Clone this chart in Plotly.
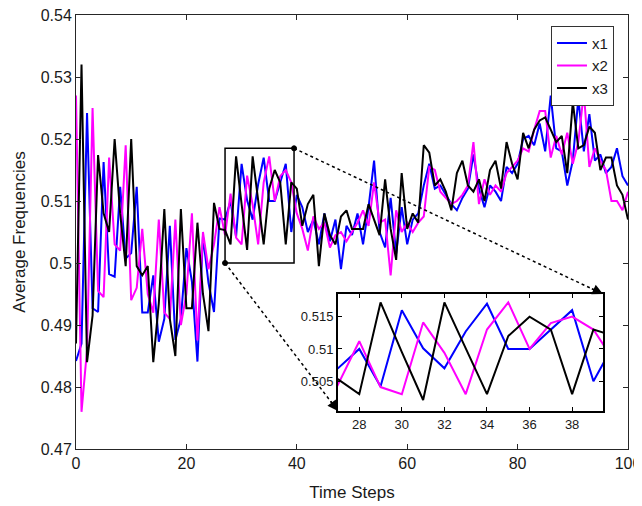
import plotly.graph_objects as go

t = list(range(101))

x1 = [0.4842, 0.487, 0.5242, 0.4927, 0.4921, 0.5163, 0.4982, 0.4978, 0.5123, 0.5007,
      0.5016, 0.5123, 0.492, 0.492, 0.498, 0.4873, 0.491, 0.506, 0.4876, 0.491,
      0.5024, 0.497, 0.4841, 0.5043, 0.4968, 0.4921, 0.5072, 0.507, 0.510, 0.5042,
      0.516, 0.5101, 0.507, 0.5127, 0.517, 0.510, 0.510, 0.513, 0.516, 0.505,
      0.511, 0.509, 0.505, 0.507, 0.503, 0.508, 0.5035, 0.507, 0.499, 0.506,
      0.5045, 0.508, 0.503, 0.509, 0.5165, 0.505, 0.5025, 0.5105, 0.5015, 0.509,
      0.503, 0.507, 0.508, 0.5125, 0.516, 0.512, 0.5125, 0.511, 0.5095, 0.5085,
      0.5105, 0.512, 0.5175, 0.512, 0.509, 0.5125, 0.5115, 0.510, 0.5155, 0.5145,
      0.516, 0.520, 0.5205, 0.519, 0.5225, 0.518, 0.527, 0.5185, 0.518, 0.5125,
      0.5165, 0.5265, 0.518, 0.524, 0.5165, 0.5175, 0.5145, 0.5155, 0.5185, 0.514,
      0.5125]

x2 = [0.527, 0.476, 0.486, 0.525, 0.4955, 0.4945, 0.517, 0.503, 0.502, 0.519,
      0.494, 0.496, 0.5055, 0.495, 0.492, 0.507, 0.492, 0.491, 0.507, 0.490,
      0.495, 0.508, 0.4875, 0.505, 0.499, 0.503, 0.509, 0.5045, 0.5112, 0.5041,
      0.503, 0.5141, 0.5094, 0.503, 0.513, 0.5172, 0.510, 0.514, 0.515, 0.513,
      0.508, 0.5055, 0.502, 0.5075, 0.5055, 0.5065, 0.5025, 0.5045, 0.505, 0.5035,
      0.505, 0.5065, 0.5085, 0.506, 0.513, 0.5065, 0.507, 0.498, 0.5085, 0.505,
      0.5065, 0.505, 0.5065, 0.5075, 0.5155, 0.515, 0.5115, 0.5105, 0.5095, 0.510,
      0.511, 0.5125, 0.5195, 0.5095, 0.5135, 0.511, 0.5125, 0.5115, 0.5145, 0.5155,
      0.5165, 0.5185, 0.518, 0.5215, 0.5245, 0.5245, 0.517, 0.5205, 0.5175, 0.521,
      0.516, 0.5195, 0.5275, 0.5155, 0.5185, 0.5165, 0.515, 0.510, 0.510, 0.5085,
      0.5115]

x3 = [0.487, 0.532, 0.484, 0.4915, 0.5174, 0.508, 0.505, 0.520, 0.508, 0.4995,
      0.520, 0.4995, 0.498, 0.4995, 0.484, 0.4935, 0.5087, 0.491, 0.485, 0.5087,
      0.4927, 0.4927, 0.5065, 0.495, 0.489, 0.5097, 0.5055, 0.5053, 0.503, 0.5172,
      0.5095, 0.5021, 0.5172, 0.510, 0.503, 0.512, 0.515, 0.513, 0.503, 0.513,
      0.512, 0.506, 0.5095, 0.511, 0.4995, 0.508, 0.5045, 0.503, 0.5075, 0.5085,
      0.5055, 0.5055, 0.5055, 0.5095, 0.507, 0.5045, 0.5135, 0.5055, 0.5005, 0.5145,
      0.5055, 0.508, 0.5065, 0.519, 0.5178, 0.5125, 0.5135, 0.5115, 0.5085, 0.5145,
      0.5165, 0.5125, 0.5115, 0.5135, 0.510, 0.515, 0.5165, 0.512, 0.5195, 0.516,
      0.5135, 0.521, 0.5185, 0.5215, 0.523, 0.5235, 0.5215, 0.5195, 0.5205, 0.5145,
      0.526, 0.5185, 0.519, 0.522, 0.521, 0.515, 0.517, 0.517, 0.5125, 0.511,
      0.507]

series_names = ["x1", "x2", "x3"]
series_colors = ["#0000ff", "#ff00ff", "#000000"]

x_ticks = [0, 20, 40, 60, 80, 100]
y_ticks = [0.47, 0.48, 0.49, 0.50, 0.51, 0.52, 0.53, 0.54]
y_ticktext = ["0.47", "0.48", "0.49", "0.5", "0.51", "0.52", "0.53", "0.54"]
inset_x_ticks = [28, 30, 32, 34, 36, 38]
inset_y_ticks = [0.505, 0.51, 0.515]
inset_y_ticktext = ["0.505", "0.51", "0.515"]

zoom_x = [27, 39.5]
zoom_y = [0.5, 0.5185]

FONT = "Liberation Sans, Arial, sans-serif"
AX = "#262626"
TXT = "#1a1a1a"

fig = go.Figure()
for name, data, col in zip(series_names, [x1, x2, x3], series_colors):
    fig.add_trace(go.Scatter(x=t, y=data, mode="lines", name=name,
                             line=dict(color=col, width=2), xaxis="x", yaxis="y"))
for name, data, col in zip(series_names, [x1, x2, x3], series_colors):
    fig.add_trace(go.Scatter(x=t, y=data, mode="lines", name=name, showlegend=False,
                             line=dict(color=col, width=2), xaxis="x2", yaxis="y2"))

xr = [0, 100]
yr = [0.47, 0.54]
inset_dx = [0.4746, 0.9547]
inset_dy = [0.0876, 0.3571]
W, H = 552, 434

def px(v):
    return (v - xr[0]) / (xr[1] - xr[0])

def py(v):
    return (v - yr[0]) / (yr[1] - yr[0])

fig.add_shape(type="rect", xref="x", yref="y", x0=zoom_x[0], x1=zoom_x[1],
              y0=zoom_y[0], y1=zoom_y[1], line=dict(color="black", width=1.5))

lines = [((px(zoom_x[1]), py(zoom_y[1])), (inset_dx[1], inset_dy[1])),
         ((px(zoom_x[0]), py(zoom_y[0])), (inset_dx[0], inset_dy[0]))]
for (a, b) in lines:
    fig.add_shape(type="line", xref="paper", yref="paper", x0=a[0], y0=a[1], x1=b[0], y1=b[1],
                  line=dict(color="black", width=1.5, dash="dot"))
    r = 2.5
    fig.add_shape(type="circle", xref="paper", yref="paper",
                  x0=a[0] - r / W, x1=a[0] + r / W, y0=a[1] - r / H, y1=a[1] + r / H,
                  line=dict(color="black", width=1), fillcolor="black")

for (a, b) in lines:
    dxp = (b[0] - a[0]) * W
    dyp = -(b[1] - a[1]) * H
    L = (dxp ** 2 + dyp ** 2) ** 0.5
    fig.add_annotation(xref="paper", yref="paper", x=b[0], y=b[1], ax=-dxp / L * 14,
                       ay=-dyp / L * 14, showarrow=True, arrowhead=2, arrowsize=1.4,
                       arrowwidth=1.5, arrowcolor="black", text="")

axis_common = dict(showline=True, linecolor=AX, mirror="ticks", ticks="inside",
                   tickcolor=AX, showgrid=False, zeroline=False, automargin=False,
                   ticklabeloverflow="allow",
                   tickfont=dict(family=FONT, size=16, color=TXT))
inset_common = {**axis_common, "tickfont": dict(family=FONT, size=13, color=TXT),
                "linecolor": "black", "tickcolor": "black"}

fig.update_layout(
    width=634, height=498,
    margin=dict(l=68, r=14, t=7, b=57),
    paper_bgcolor="white", plot_bgcolor="white",
    font=dict(family=FONT, size=16, color=TXT),
    xaxis=dict(range=xr, tickvals=x_ticks, ticklen=5, linewidth=1, domain=[0, 1],
               title=dict(text="Time Steps", font=dict(size=17), standoff=14), **axis_common),
    yaxis=dict(range=yr, tickvals=y_ticks, ticktext=y_ticktext, ticklen=5, linewidth=1,
               domain=[0, 1],
               title=dict(text="Average Frequencies", font=dict(size=17), standoff=10),
               **axis_common),
    xaxis2=dict(range=[27, 39.45], tickvals=inset_x_ticks, ticklen=4, linewidth=2,
                domain=inset_dx, anchor="y2", **inset_common),
    yaxis2=dict(range=[0.5004, 0.5185], tickvals=inset_y_ticks, ticktext=inset_y_ticktext,
                ticklen=4, linewidth=2, domain=inset_dy, anchor="x2", **inset_common),
    legend=dict(x=0.9746, y=0.975, xanchor="right", yanchor="top", bgcolor="white",
                bordercolor="#333333", borderwidth=1, font=dict(family=FONT, size=15),
                tracegroupgap=0),
    showlegend=True,
)

fig.write_html("out.html")
